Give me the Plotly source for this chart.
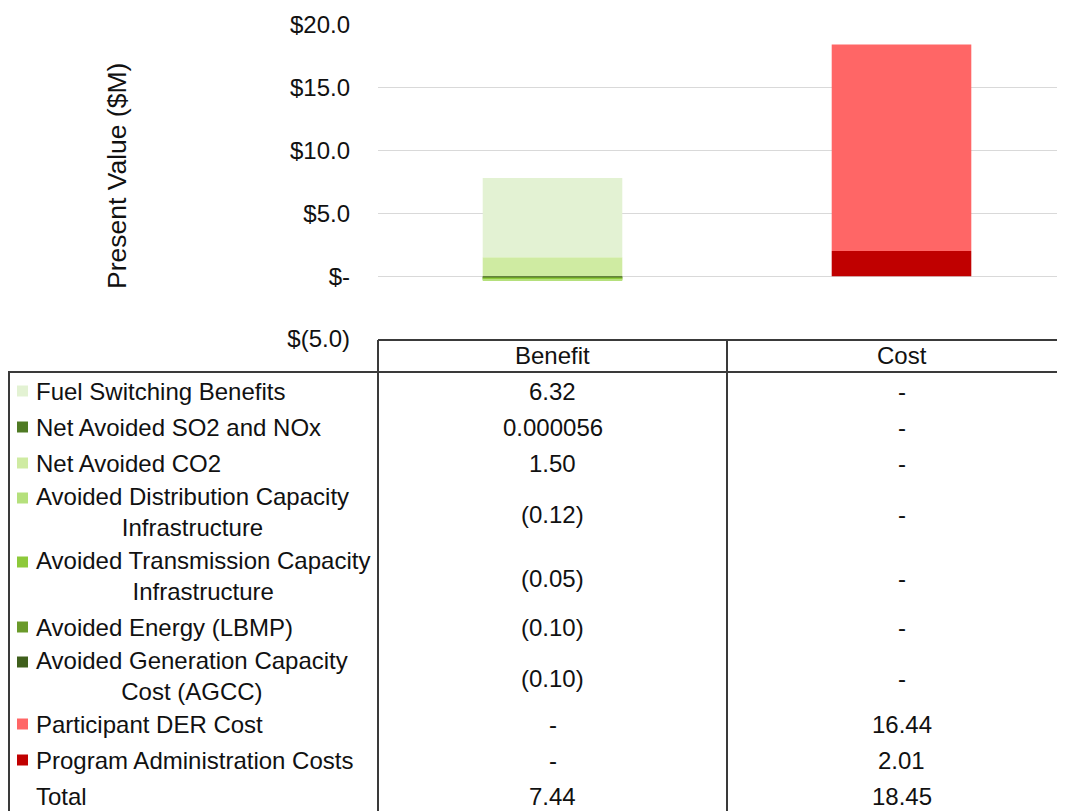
import plotly.graph_objects as go

# ---------------- data ----------------
categories = ["Benefit", "Cost"]
series_names = [
    "Fuel Switching Benefits",
    "Net Avoided SO2 and NOx",
    "Net Avoided CO2",
    "Avoided Distribution Capacity<br>Infrastructure",
    "Avoided Transmission Capacity<br>Infrastructure",
    "Avoided Energy (LBMP)",
    "Avoided Generation Capacity<br>Cost (AGCC)",
    "Participant DER Cost",
    "Program Administration Costs",
]
benefit_values = [6.32, 0.000056, 1.50, -0.12, -0.05, -0.10, -0.10, 0.0, 0.0]
cost_values = [0.0, 0.0, 0.0, 0.0, 0.0, 0.0, 0.0, 16.44, 2.01]
totals = [7.44, 18.45]
series_colors = [
    "#E3F2D3", "#4F7A24", "#CFEBA2", "#B5E07C", "#8DC93A",
    "#6A9A2A", "#3F5F1C", "#FF6666", "#C00000",
]
tick_vals = [-5, 0, 5, 10, 15, 20]
tick_text = ["$(5.0)", "$-", "$5.0", "$10.0", "$15.0", "$20.0"]

# ---------------- layout constants (pixels, page coordinates) ----------------
OFF = 8  # the page's body margin shifts the figure by this many pixels
W, H = 1065 - OFF, 811 - OFF
PLOT_L, PLOT_T, PLOT_B = 378, 25, 339
COL_W = 349
FONT = "Liberation Sans, Arial, sans-serif"
TXT = "#111111"
LINE = "#3a3a3a"
TSIZE = 24


def px(x):
    return (x - OFF) / W


def py(y):
    return 1 - (y - OFF) / H


def fmt(v):
    if v == 0:
        return "-"
    if abs(v) < 0.01:
        return f"{v:.6f}"
    if v < 0:
        return f"({abs(v):.2f})"
    return f"{v:.2f}"


fig = go.Figure()
# stack in reverse series order (last series at the bottom)
for i in reversed(range(len(series_names))):
    fig.add_trace(go.Bar(
        x=categories,
        y=[benefit_values[i], cost_values[i]],
        name=series_names[i].replace("<br>", " "),
        marker=dict(color=series_colors[i], line=dict(width=0)),
        width=0.4,
        showlegend=False,
        hoverinfo="skip",
    ))

x_right_px = W + OFF
xrange_max = -0.5 + (x_right_px - PLOT_L) / COL_W

fig.update_layout(
    width=W, height=H,
    barmode="relative",
    margin=dict(l=0, r=0, t=0, b=0, autoexpand=False),
    paper_bgcolor="white", plot_bgcolor="white",
    font=dict(family=FONT, color=TXT, size=TSIZE),
    xaxis=dict(
        domain=[px(PLOT_L), 1], range=[-0.5, xrange_max],
        showticklabels=False, showgrid=False, zeroline=False,
        showline=False, ticks="", automargin=False,
    ),
    yaxis=dict(
        domain=[py(PLOT_B), py(PLOT_T)], range=[-5, 20],
        tickvals=tick_vals, ticktext=tick_text,
        tickfont=dict(size=24, family=FONT, color=TXT),
        showgrid=True, gridcolor="#D9D9D9", gridwidth=1.3,
        zeroline=False, showline=False, ticks="",
        ticklabelstandoff=27, automargin=False,
    ),
)

annotations = []
shapes = []

# y-axis title
annotations.append(dict(
    x=px(117), y=py(176), xref="paper", yref="paper",
    text="Present Value ($M)", textangle=-90, showarrow=False,
    font=dict(size=26.5, family=FONT, color=TXT),
    xanchor="center", yanchor="middle",
))

# table lines
y_top, y_hdr, y_bot = 340, 372, 811 + 20
x_left, x_mid, x_right = 8, PLOT_L + COL_W, PLOT_L + 2 * COL_W
lw = 2
shapes += [
    dict(type="line", xref="paper", yref="paper", x0=px(PLOT_L), x1=px(x_right), y0=py(y_top), y1=py(y_top), line=dict(color=LINE, width=lw)),
    dict(type="line", xref="paper", yref="paper", x0=px(x_left), x1=px(x_right), y0=py(y_hdr), y1=py(y_hdr), line=dict(color=LINE, width=lw)),
    dict(type="line", xref="paper", yref="paper", x0=px(x_left + 1), x1=px(x_left + 1), y0=py(y_hdr), y1=py(y_bot), line=dict(color=LINE, width=lw)),
    dict(type="line", xref="paper", yref="paper", x0=px(PLOT_L), x1=px(PLOT_L), y0=py(y_top), y1=py(y_bot), line=dict(color=LINE, width=lw)),
    dict(type="line", xref="paper", yref="paper", x0=px(x_mid), x1=px(x_mid), y0=py(y_top), y1=py(y_bot), line=dict(color=LINE, width=lw)),
]

# header
for c in categories:
    annotations.append(dict(
        x=c, xref="x", y=py(356), yref="paper", text=c, showarrow=False,
        xanchor="center", yanchor="middle", font=dict(size=TSIZE, family=FONT, color=TXT),
    ))

# rows
row_y = [391, 427, 463, 512, 576, 627, 676, 724, 760, 796]
for i, name in enumerate(series_names):
    yc = row_y[i]
    two = "<br>" in name
    annotations.append(dict(
        x=px(34), y=py(yc), xref="paper", yref="paper", text=name,
        showarrow=False, xanchor="left", yanchor="middle", align="center",
        font=dict(size=TSIZE, family=FONT, color=TXT),
    ))
    ky = yc - 14 if two else yc
    shapes.append(dict(
        type="rect", xref="paper", yref="paper",
        x0=px(17), x1=px(28), y0=py(ky - 5.5), y1=py(ky + 5.5),
        fillcolor=series_colors[i], line=dict(width=0),
    ))
    for c, vals in zip(categories, [benefit_values, cost_values]):
        annotations.append(dict(
            x=c, xref="x", y=py(yc + (2 if two else 0)), yref="paper", text=fmt(vals[i]),
            showarrow=False, xanchor="center", yanchor="middle",
            font=dict(size=TSIZE, family=FONT, color=TXT),
        ))

# total row
yc = row_y[-1]
annotations.append(dict(
    x=px(34), y=py(yc), xref="paper", yref="paper", text="Total",
    showarrow=False, xanchor="left", yanchor="middle",
    font=dict(size=TSIZE, family=FONT, color=TXT),
))
for c, t in zip(categories, totals):
    annotations.append(dict(
        x=c, xref="x", y=py(yc), yref="paper", text=fmt(t),
        showarrow=False, xanchor="center", yanchor="middle",
        font=dict(size=TSIZE, family=FONT, color=TXT),
    ))

fig.update_layout(annotations=annotations, shapes=shapes)
fig.write_html("out.html")
